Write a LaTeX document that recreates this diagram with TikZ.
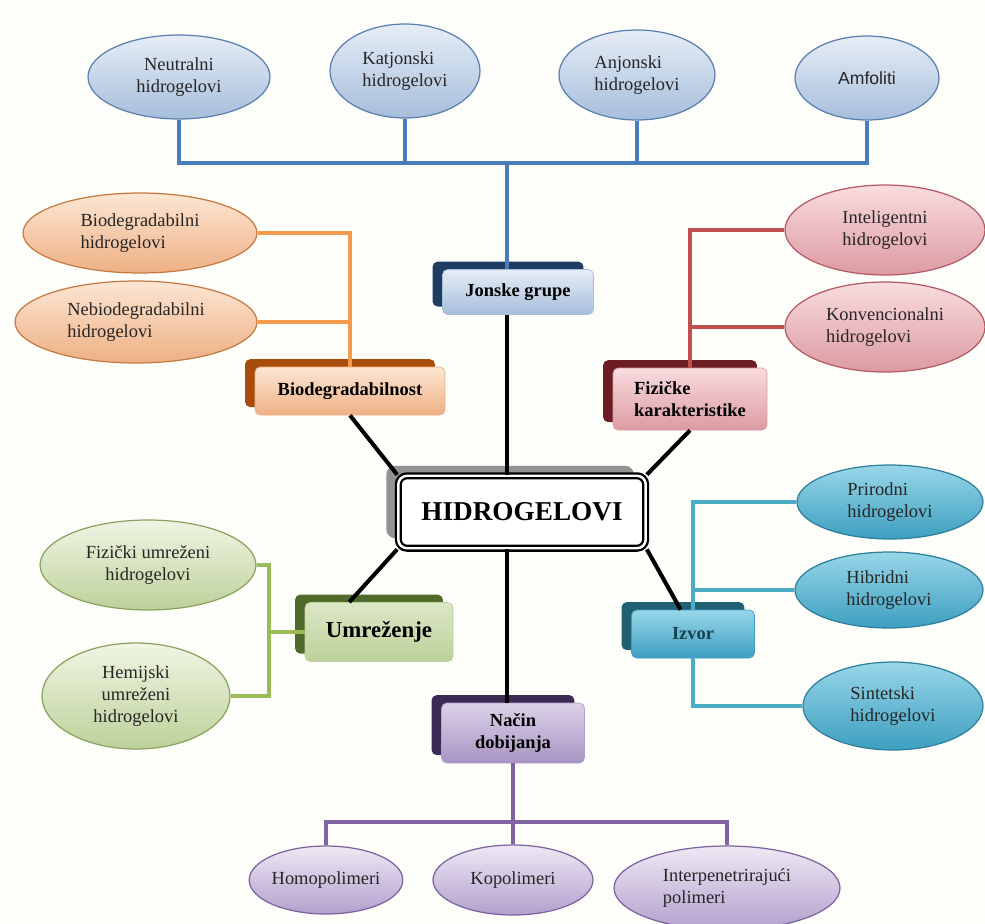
\documentclass[tikz,border=0pt]{standalone}
\usepackage{fontspec}
\setmainfont{Liberation Serif}
\newfontfamily\amffont{Liberation Sans}
\usetikzlibrary{shapes.geometric,shadows,calc}

% boje
\definecolor{pozadina}{HTML}{FDFDF9}
\definecolor{plavaG}{HTML}{E6EDF6}\definecolor{plavaD}{HTML}{A6BEDB}\definecolor{plavaR}{HTML}{5B7FAE}
\definecolor{plavaL}{HTML}{4A7EBB}\definecolor{plavaT}{HTML}{1F3D63}
\definecolor{narG}{HTML}{FCE6D3}\definecolor{narD}{HTML}{EEB084}\definecolor{narR}{HTML}{C67A42}
\definecolor{narL}{HTML}{F39A4B}\definecolor{narT}{HTML}{A84C0C}
\definecolor{crvG}{HTML}{F9DCDF}\definecolor{crvD}{HTML}{DC9AA2}\definecolor{crvR}{HTML}{B45A64}
\definecolor{crvL}{HTML}{C0504D}\definecolor{crvT}{HTML}{6B1C24}
\definecolor{cijG}{HTML}{98D6E8}\definecolor{cijD}{HTML}{3D9FC0}\definecolor{cijR}{HTML}{2D7F9C}
\definecolor{cijL}{HTML}{4BACC6}\definecolor{cijT}{HTML}{215F72}
\definecolor{zelG}{HTML}{F0F5E4}\definecolor{zelD}{HTML}{BDD19A}\definecolor{zelR}{HTML}{8AA35E}
\definecolor{zelL}{HTML}{9BBB59}\definecolor{zelT}{HTML}{4F6A2A}
\definecolor{ljuG}{HTML}{EEE8F4}\definecolor{ljuD}{HTML}{B3A0CD}\definecolor{ljuR}{HTML}{7B62A0}
\definecolor{ljuL}{HTML}{8064A2}\definecolor{ljuT}{HTML}{3C2A55}

\tikzset{
  elip/.style={ellipse, inner sep=0pt, line width=0.7pt, text=black!85,
    font=\fontsize{10.5}{12.5}\selectfont},
  kutija/.style={rectangle, rounded corners=3pt, inner sep=0pt, line width=0.4pt,
    font=\bfseries\fontsize{10.5}{12.5}\selectfont},
  crta/.style={line width=2.3pt, black},
  grana/.style={line width=2pt},
  plavaelip/.style={elip, draw=plavaR, top color=plavaG, bottom color=plavaD},
  narelip/.style={elip, draw=narR, top color=narG, bottom color=narD},
  crvelip/.style={elip, draw=crvR, top color=crvG, bottom color=crvD},
  cijelip/.style={elip, draw=cijR, top color=cijG, bottom color=cijD},
  zelelip/.style={elip, draw=zelR, top color=zelG, bottom color=zelD},
  ljuelip/.style={elip, draw=ljuR, top color=ljuG, bottom color=ljuD},
  senka/.style={copy shadow={shadow xshift=-5.7pt, shadow yshift=4.5pt, fill=#1, draw=none}},
}

\begin{document}
\begin{tikzpicture}[x=0.02cm, y=-0.02cm]
  % pozadina
  \clip (0,0) rectangle (985,924);
  \fill[pozadina] (0,0) rectangle (985,924);
  \coordinate (osa) at (507,0);
  \coordinate (busT) at (0,163);
  \coordinate (busD) at (0,822);
  \coordinate (zel) at (269,0);

  % centralni cvor
  \node[rectangle, rounded corners=5pt, draw=black, fill=white, line width=1.3pt,
        double=white, double distance=1.4pt, minimum width=4.95cm, minimum height=1.45cm,
        copy shadow={shadow xshift=-6.8pt, shadow yshift=5.7pt, fill=gray!85, draw=none},
        font=\bfseries\fontsize{15.5}{18}\selectfont] (hid) at (522,512) {HIDROGELOVI};

  % kategorije
  \node[kutija, draw=plavaD, top color=plavaG, bottom color=plavaD, senka=plavaT,
        minimum width=3.02cm, minimum height=0.9cm] (jon) at (518,292) {Jonske grupe};
  \node[kutija, draw=narD, top color=narG, bottom color=narD, senka=narT,
        minimum width=3.8cm, minimum height=0.96cm] (bio) at (350,391) {Biodegradabilnost};
  \node[kutija, draw=crvD, top color=crvG, bottom color=crvD, senka=crvT, align=left,
        minimum width=3.08cm, minimum height=1.24cm] (fiz) at (690,399) {Fizičke\\karakteristike};
  \node[kutija, draw=zelD, top color=zelG!60!zelD, bottom color=zelD, senka=zelT,
        minimum width=2.96cm, minimum height=1.18cm, font=\bfseries\fontsize{13}{15}\selectfont]
        (umr) at (379,632) {Umreženje};
  \node[kutija, draw=cijD, top color=cijG, bottom color=cijD, senka=cijT, text=cijT!70!black,
        minimum width=2.46cm, minimum height=0.96cm] (izv) at (693,634) {Izvor};
  \node[kutija, draw=ljuD, top color=ljuG!70!ljuD, bottom color=ljuD!80!ljuR, senka=ljuT, align=center,
        minimum width=2.86cm, minimum height=1.2cm] (nac) at (513,733) {Način\\dobijanja};

  % jonske grupe
  \node[plavaelip, minimum width=3.64cm, minimum height=1.68cm, align=center] (neu) at (179,77) {Neutralni\\hidrogelovi};
  \node[plavaelip, minimum width=3.0cm, minimum height=1.88cm, align=left] (kat) at (405,71) {Katjonski\\hidrogelovi};
  \node[plavaelip, minimum width=3.12cm, minimum height=1.8cm, align=left] (anj) at (637,75) {Anjonski\\hidrogelovi};
  \node[plavaelip, minimum width=2.88cm, minimum height=1.68cm, font=\amffont\fontsize{10}{12}\selectfont] (amf) at (867,78) {Amfoliti};

  % biodegradabilnost
  \node[narelip, minimum width=4.68cm, minimum height=1.6cm, align=left] (bdg) at (140,233) {Biodegradabilni\\hidrogelovi};
  \node[narelip, minimum width=4.84cm, minimum height=1.64cm, align=left] (nbd) at (136,322) {Nebiodegradabilni\\hidrogelovi};

  % fizicke karakteristike
  \node[crvelip, minimum width=4.0cm, minimum height=1.8cm, align=left] (int) at (885,230) {Inteligentni\\hidrogelovi};
  \node[crvelip, minimum width=4.0cm, minimum height=1.8cm, align=left] (kon) at (885,327) {Konvencionalni\\hidrogelovi};

  % izvor
  \node[cijelip, minimum width=3.72cm, minimum height=1.48cm, align=left] (pri) at (890,502) {Prirodni\\hidrogelovi};
  \node[cijelip, minimum width=3.76cm, minimum height=1.52cm, align=left] (hib) at (889,590) {Hibridni\\hidrogelovi};
  \node[cijelip, minimum width=3.6cm, minimum height=1.76cm, align=left] (sin) at (893,706) {Sintetski\\hidrogelovi};

  % umrezenje
  \node[zelelip, minimum width=4.32cm, minimum height=1.8cm, align=center] (fzu) at (148,565) {Fizički umreženi\\hidrogelovi};
  \node[zelelip, minimum width=3.76cm, minimum height=2.12cm, align=center] (hem) at (136,696) {Hemijski\\umreženi\\hidrogelovi};

  % nacin dobijanja
  \node[ljuelip, minimum width=2.68cm, minimum height=1.36cm] (hom) at (326,880) {Homopolimeri};
  \node[ljuelip, minimum width=3.2cm, minimum height=1.4cm] (kop) at (513,880) {Kopolimeri};
  \node[ljuelip, minimum width=4.52cm, minimum height=1.68cm, align=left] (ipr) at (727,888) {Interpenetrirajući\\polimeri};

  % crne linije
  \draw[crta] (jon.south -| osa) -- (hid.north -| osa);
  \draw[crta] (hid.south -| osa) -- (nac.north -| osa);
  \draw[crta] (bio.south) -- (hid.north west);
  \draw[crta] (fiz.south) -- (hid.north east);
  \draw[crta] ($(umr.north west)!0.3!(umr.north east)$) -- (hid.south west);
  \draw[crta] (hid.south east) -- ($(izv.north west)!0.4!(izv.north east)$);

  % plave grane
  \draw[grana, plavaL] (neu.south) -- (neu.south |- busT) -- (amf.south |- busT) -- (amf.south);
  \draw[grana, plavaL] (kat.south) -- (kat.south |- busT);
  \draw[grana, plavaL] (anj.south) -- (anj.south |- busT);
  \draw[grana, plavaL] (busT -| osa) -- (jon.north -| osa);

  % narandzaste grane
  \draw[grana, narL] (bdg.east) -| (bio.north);
  \draw[grana, narL] (nbd.east) -- (nbd.east -| bio.north);

  % crvene grane
  \draw[grana, crvL] (int.west) -| (fiz.north);
  \draw[grana, crvL] (kon.west) -- (kon.west -| fiz.north);

  % cijan grane
  \draw[grana, cijL] (pri.west) -| (izv.north);
  \draw[grana, cijL] (hib.west) -- (hib.west -| izv.north);
  \draw[grana, cijL] (izv.south) |- (sin.west);

  % zelene grane
  \draw[grana, zelL] (fzu.east) -| (umr.west -| zel) |- (hem.east);
  \draw[grana, zelL] (umr.west -| zel) -- (umr.west);

  % ljubicaste grane
  \draw[grana, ljuL] (nac.south) -- (nac.south |- busD);
  \draw[grana, ljuL] (hom.north) -- (hom.north |- busD) -- (ipr.north |- busD) -- (ipr.north);
  \draw[grana, ljuL] (nac.south |- busD) -- (kop.north);
\end{tikzpicture}
\end{document}
